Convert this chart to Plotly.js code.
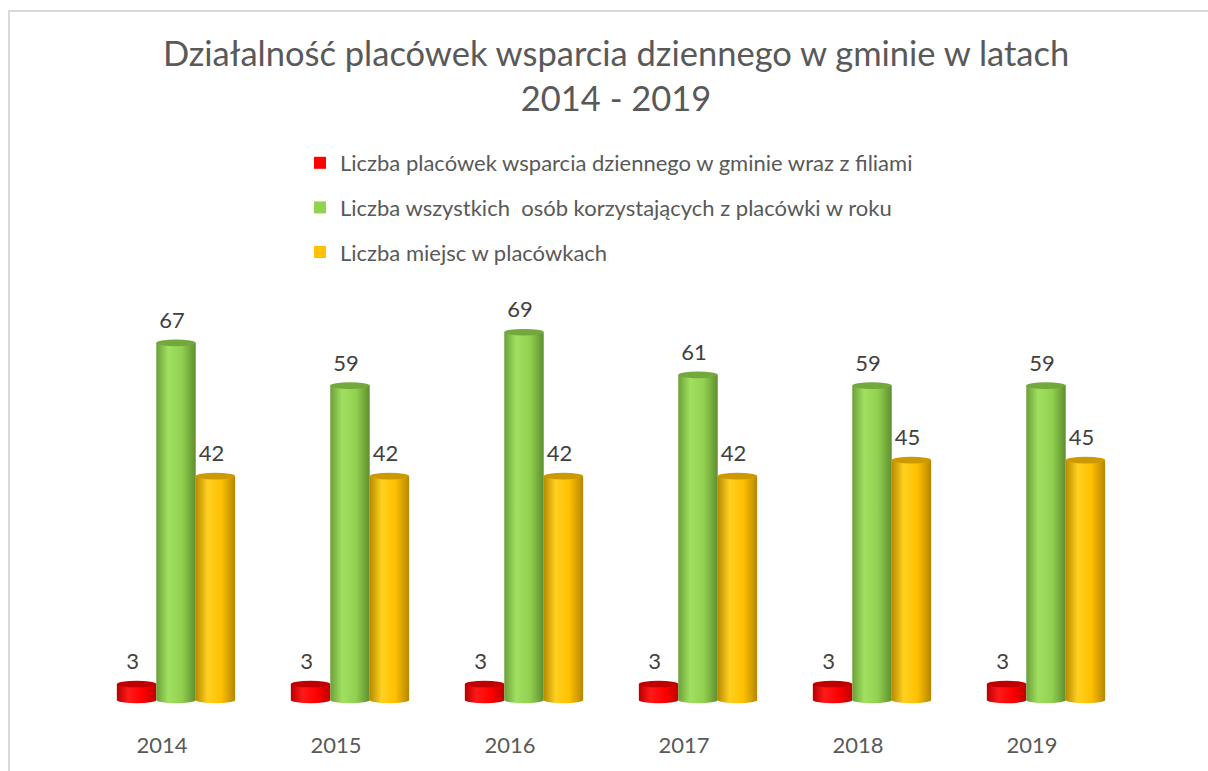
<!DOCTYPE html>
<html>
<head>
<meta charset="utf-8">
<script src="https://cdn.plot.ly/plotly-3.0.1.min.js"></script>
<style>
html,body{margin:0;padding:0;background:#fff;overflow:hidden;}
#chart{width:1208px;height:771px;}
#frame{position:absolute;left:8px;top:10px;width:1400px;height:1000px;border:2px solid #d9d9d9;pointer-events:none;}
</style>
</head>
<body>
<div id="chart"></div>
<div id="frame"></div>
<script>
const years = ['2014','2015','2016','2017','2018','2019'];
const seriesNames = [
  'Liczba placówek wsparcia dziennego w gminie wraz z filiami',
  'Liczba wszystkich  osób korzystających z placówki w roku',
  'Liczba miejsc w placówkach'
];
const placowki = [3,3,3,3,3,3];
const osoby = [67,59,69,61,59,59];
const miejsca = [42,42,42,42,45,45];
const colors = ['#ff0000','#92d050','#ffc000'];

const FONT = 'Lato, "Open Sans", sans-serif';
const values = [placowki, osoby, miejsca];
const traces = values.map((v,i)=>({
  type:'bar', x:years, y:v, name:seriesNames[i], legendgroup:'g'+i,
  marker:{color:colors[i]},
  text:v.map(String), textposition:'outside', cliponaxis:false,
  textfont:{family:FONT,size:22,color:'#404040'},
  hoverinfo:'none'
}));

const layout = {
  width:1208, height:771,
  paper_bgcolor:'#ffffff', plot_bgcolor:'#ffffff',
  margin:{l:89,r:75,t:280,b:71},
  barmode:'group', bargap:0.32, bargroupgap:0,
  title:{text:'Działalność placówek wsparcia dziennego w gminie w latach<br>2014 - 2019',
    font:{family:FONT,size:34.5,color:'#595959'}, x:0.51, xref:'container', xanchor:'center',
    y:1-66/771, yref:'container', yanchor:'top'},
  showlegend:true,
  legend:{orientation:'v', x:(300-89)/1044, xanchor:'left', y:1-142/771, yref:'container', yanchor:'top',
    font:{family:FONT,size:22,color:'#595959'}, tracegroupgap:13, traceorder:'grouped', bgcolor:'rgba(0,0,0,0)'},
  xaxis:{type:'category', showgrid:false, zeroline:false, showline:false, ticks:'',
    tickfont:{family:FONT,size:22,color:'#595959'}, ticklabelstandoff:30, ticklabelshift:-14, fixedrange:true},
  yaxis:{range:[0,78.8], visible:false, showgrid:false, zeroline:false, fixedrange:true},
  font:{family:FONT}
};

const grads = [
  ['#b80000','#ff1a1a','#ff0000','#c00000'],
  ['#6c9f38','#a0e060','#92d050','#5f8f2e'],
  ['#b88a00','#ffd020','#ffc000','#b58700']
];
const tops = ['#c00000','#72a83c','#cc9a00'];

function svgEl(tag, attrs){
  const e = document.createElementNS('http://www.w3.org/2000/svg', tag);
  for (const k in attrs) e.setAttribute(k, attrs[k]);
  return e;
}

Plotly.newPlot('chart', traces, layout, {displayModeBar:false, staticPlot:true}).then(gd=>{
  const svg = gd.querySelector('svg.main-svg');
  let defs = svg.querySelector('defs');
  grads.forEach((g,i)=>{
    const lg = svgEl('linearGradient',{id:'cyl'+i,x1:'0',y1:'0',x2:'1',y2:'0'});
    [[0,g[0]],[0.3,g[1]],[0.65,g[2]],[1,g[3]]].forEach(s=>{
      lg.appendChild(svgEl('stop',{offset:s[0],'stop-color':s[1]}));
    });
    defs.appendChild(lg);
  });
  const traceGroups = gd.querySelectorAll('.barlayer .trace.bars');
  traceGroups.forEach((tg,i)=>{
    tg.querySelectorAll('.point').forEach(pt=>{
      const path = pt.querySelector('path');
      const nums = (path.getAttribute('d')||'').match(/-?\d+(\.\d+)?/g);
      if(!nums) return;
      const [x0,y0,y1,x1] = nums.map(Number);
      const cx=(x0+x1)/2, rx=Math.abs(x1-x0)/2, ry=rx*0.17;
      path.style.fill = 'url(#cyl'+i+')';
      const bottom = svgEl('ellipse',{cx:cx,cy:y0,rx:rx,ry:ry});
      bottom.style.fill = 'url(#cyl'+i+')';
      pt.insertBefore(bottom, path);
      const top = svgEl('ellipse',{cx:cx,cy:y1,rx:rx,ry:ry});
      top.style.fill = tops[i];
      path.after(top);
      const t = pt.querySelector('text');
      if(t){ t.setAttribute('transform', (t.getAttribute('transform')||'') + ' translate(-4,-7)'); }
    });
  });
});
</script>
</body>
</html>
